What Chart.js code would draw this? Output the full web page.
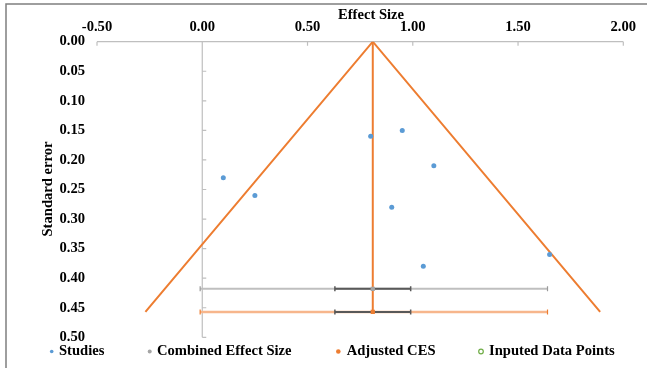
<!DOCTYPE html>
<html><head><meta charset="utf-8">
<script src="https://cdn.jsdelivr.net/npm/chart.js@4"></script>
<style>html,body{margin:0;padding:0;background:#fff;overflow:hidden}</style>
</head><body><canvas id="c" width="647" height="368"></canvas>
<script>
// ---- data ----
const studyEffect = [0.10, 0.25, 0.80, 0.95, 1.10, 0.90, 1.05, 1.65];
const studySE     = [0.23, 0.26, 0.16, 0.15, 0.21, 0.28, 0.38, 0.36];
const combinedCES = 0.81, combinedSE = 0.418;
const adjustedCES = 0.81, adjustedSE = 0.457;
const ciLow = 0.63, ciHigh = 0.99;
const piLow = -0.01, piHigh = 1.64;
const funnelEffect = [-0.27, 0.81, 1.89];
const funnelSE     = [0.457, 0, 0.457];
const inputedEffect = [], inputedSE = [];
const xTickValues = [-0.5, 0, 0.5, 1.0, 1.5, 2.0];
const yTickValues = [0, 0.05, 0.10, 0.15, 0.20, 0.25, 0.30, 0.35, 0.40, 0.45, 0.50];
const legendLabels = ['Studies', 'Combined Effect Size', 'Adjusted CES', 'Inputed Data Points'];
const xTitle = 'Effect Size', yTitle = 'Standard error';

const BLUE = '#5B9BD5', GRAY = '#A5A5A5', ORANGE = '#ED7D31', GREEN = '#70AD47';
const FONT = "'Liberation Serif','Times New Roman',serif";
const FS = 14.6;
const pts = (xs, ys) => xs.map((x, i) => ({x, y: ys[i]}));

const capStyle = {pointStyle: 'line', pointRotation: 90, pointRadius: 2.5, pointHoverRadius: 2.5};

const datasets = [
  {label: legendLabels[0], data: pts(studyEffect, studySE), backgroundColor: BLUE, borderColor: BLUE,
   pointRadius: 2.5, pointBorderWidth: 0, showLine: false},
  {label: legendLabels[3], data: pts(inputedEffect, inputedSE), backgroundColor: 'transparent', borderColor: GREEN, pointRadius: 2.5, showLine: false},
  {label: 'cesPoint', data: [{x: combinedCES, y: combinedSE}], backgroundColor: GRAY, borderColor: GRAY, pointStyle: 'rect', pointRadius: 3, pointBorderWidth: 0, showLine: false},
  {label: 'adjPoint', data: [{x: adjustedCES, y: adjustedSE}], backgroundColor: ORANGE, borderColor: ORANGE, pointStyle: 'rect', pointRadius: 3, pointBorderWidth: 0, showLine: false},
  Object.assign({label: 'cesCI', data: [{x: ciLow, y: combinedSE}, {x: ciHigh, y: combinedSE}], borderColor: '#595959', pointBorderColor: '#595959', borderWidth: 2, pointBorderWidth: 1.5, showLine: true}, capStyle),
  Object.assign({label: 'adjCI', data: [{x: ciLow, y: adjustedSE}, {x: ciHigh, y: adjustedSE}], borderColor: '#595959', pointBorderColor: '#595959', borderWidth: 2, pointBorderWidth: 1.5, showLine: true}, capStyle),
  {label: 'adjVertical', data: [{x: adjustedCES, y: 0}, {x: adjustedCES, y: adjustedSE}], borderColor: ORANGE, borderWidth: 2, pointRadius: 0, showLine: true},
  Object.assign({label: 'cesPI', data: [{x: piLow, y: combinedSE}, {x: piHigh, y: combinedSE}], borderColor: '#BFBFBF', pointBorderColor: '#9a9a9a', borderWidth: 2, pointBorderWidth: 1.2, showLine: true}, capStyle),
  Object.assign({label: 'adjPI', data: [{x: piLow, y: adjustedSE}, {x: piHigh, y: adjustedSE}], borderColor: '#F7B68C', pointBorderColor: ORANGE, borderWidth: 2.5, pointBorderWidth: 1.2, showLine: true}, capStyle),
  {label: 'funnel', data: pts(funnelEffect, funnelSE), borderColor: ORANGE, borderWidth: 2, pointRadius: 0, showLine: true, tension: 0},
];

const frame = {
  id: 'frame',
  beforeDraw(chart) {
    const c = chart.ctx;
    c.save();
    c.fillStyle = '#fff'; c.fillRect(0, 0, chart.width, chart.height);
    c.strokeStyle = '#7f7f7f'; c.lineWidth = 1.5;
    c.beginPath(); c.moveTo(6, 400); c.lineTo(6, 4); c.lineTo(700, 4); c.stroke();
    c.restore();
  },
  beforeDatasetsDraw(chart) {
    const c = chart.ctx, a = chart.chartArea, xs = chart.scales.x, ys = chart.scales.y;
    c.save();
    c.strokeStyle = '#BFBFBF'; c.lineWidth = 1.2;
    c.beginPath();
    c.moveTo(a.left, a.top); c.lineTo(a.right, a.top);
    xTickValues.forEach(v => { const px = xs.getPixelForValue(v); c.moveTo(px, a.top); c.lineTo(px, a.top + 4); });
    const x0 = xs.getPixelForValue(0);
    c.moveTo(x0, a.top); c.lineTo(x0, a.bottom);
    yTickValues.forEach(v => { const py = ys.getPixelForValue(v); c.moveTo(x0, py); c.lineTo(x0 + 4, py); });
    c.stroke();
    c.restore();
  },
  afterDraw(chart) {
    const c = chart.ctx;
    c.save();
    c.fillStyle = '#000';
    c.font = 'bold ' + FS + 'px ' + FONT;
    c.textBaseline = 'middle';
    c.textAlign = 'center';
    c.fillText(xTitle, 371, 15);
    c.save(); c.translate(48, 189); c.rotate(-Math.PI / 2); c.fillText(yTitle, 0, 0); c.restore();
    // legend
    const markerX = [51.7, 149.7, 338.3, 481];
    const textX = [59, 157, 346.7, 489];
    const ly = 351.5;
    const styles = [
      {fill: BLUE, r: 1.8}, {fill: GRAY, r: 2}, {fill: ORANGE, r: 2.3}, {stroke: GREEN, r: 2.3}
    ];
    c.textAlign = 'left';
    legendLabels.forEach((t, i) => {
      const s = styles[i];
      c.beginPath(); c.arc(markerX[i], ly, s.r, 0, Math.PI * 2);
      if (s.fill) { c.fillStyle = s.fill; c.fill(); }
      else { c.strokeStyle = s.stroke; c.lineWidth = 1.2; c.stroke(); }
      c.fillStyle = '#000';
      c.fillText(t, textX[i], ly);
    });
    c.restore();
  }
};

new Chart(document.getElementById('c'), {
  type: 'scatter',
  data: {datasets},
  options: {
    responsive: false, animation: false, devicePixelRatio: 1,
    layout: {padding: {left: 0, top: 0, right: 23.7, bottom: 30.7}},
    plugins: {legend: {display: false}, tooltip: {enabled: false}},
    elements: {line: {tension: 0}},
    scales: {
      x: {
        type: 'linear', position: 'top', min: -0.5, max: 2.0,
        afterBuildTicks: s => { s.ticks = xTickValues.map(v => ({value: v})); },
        afterFit: s => { s.height = 41.7; },
        grid: {display: false, drawTicks: false}, border: {display: false},
        ticks: {padding: 6, color: '#000', font: {family: FONT, size: FS, weight: 'bold'}, callback: v => v.toFixed(2), maxRotation: 0, autoSkip: false}
      },
      y: {
        type: 'linear', reverse: true, min: 0, max: 0.5,
        afterBuildTicks: s => { s.ticks = yTickValues.map(v => ({value: v})); },
        afterFit: s => { s.width = 97; },
        grid: {display: false, drawTicks: false}, border: {display: false},
        ticks: {padding: 12, color: '#000', font: {family: FONT, size: FS, weight: 'bold'}, callback: v => v.toFixed(2), autoSkip: false}
      }
    }
  },
  plugins: [frame]
});
</script>
</body></html>
